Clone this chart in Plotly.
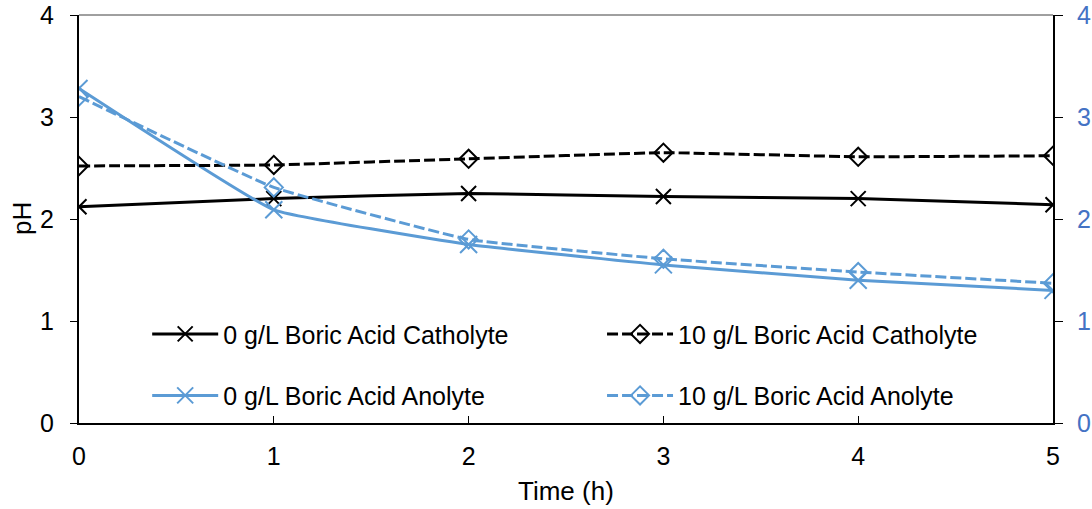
import plotly.graph_objects as go

time_h = [0, 1, 2, 3, 4, 5]
cat_0 = [2.12, 2.20, 2.25, 2.22, 2.20, 2.14]
cat_10 = [2.52, 2.53, 2.59, 2.65, 2.61, 2.62]
an_0 = [3.28, 2.09, 1.75, 1.55, 1.40, 1.30]
an_10 = [3.20, 2.31, 1.80, 1.61, 1.48, 1.37]
y_ticks = [0, 1, 2, 3, 4]

BLUE = "#5B9BD5"
FONT = "Liberation Sans, Arial, sans-serif"
SM = 0.3
DASH = "11px,4px"

fig = go.Figure()
fig.add_trace(go.Scatter(x=time_h, y=cat_0, name="0 g/L Boric Acid Catholyte",
                         mode="lines+markers", line=dict(color="black", width=3, shape="spline", smoothing=SM),
                         marker=dict(symbol="x-thin", size=15, line=dict(color="black", width=2)),
                         legend="legend", legendgroup="a"))
fig.add_trace(go.Scatter(x=time_h, y=an_0, name="0 g/L Boric Acid Anolyte",
                         mode="lines+markers", line=dict(color=BLUE, width=3, shape="spline", smoothing=SM),
                         marker=dict(symbol="x-thin", size=17, line=dict(color=BLUE, width=2)),
                         legend="legend", legendgroup="b"))
fig.add_trace(go.Scatter(x=time_h, y=cat_10, name="10 g/L Boric Acid Catholyte",
                         mode="lines+markers", line=dict(color="black", width=3, dash=DASH, shape="spline", smoothing=SM),
                         marker=dict(symbol="diamond-open", size=14, color="black", line=dict(color="black", width=2)),
                         legend="legend2", legendgroup="c"))
fig.add_trace(go.Scatter(x=time_h, y=an_10, name="10 g/L Boric Acid Anolyte", yaxis="y2",
                         mode="lines+markers", line=dict(color=BLUE, width=3, dash=DASH, shape="spline", smoothing=SM),
                         marker=dict(symbol="diamond-open", size=14, color=BLUE, line=dict(color=BLUE, width=2)),
                         legend="legend2", legendgroup="d"))

fig.update_layout(
    width=1092, height=509,
    margin=dict(l=79, r=39, t=15, b=86),
    plot_bgcolor="white", paper_bgcolor="white",
    font=dict(family=FONT, size=25, color="black"),
    xaxis=dict(range=[0, 5], tickvals=time_h, showline=True, linecolor="black", linewidth=2,
               ticks="inside", ticklen=7, tickcolor="black", showgrid=False, zeroline=False,
               automargin=False, ticklabelstandoff=10, tickfont=dict(size=25)),
    yaxis=dict(range=[0, 4], tickvals=y_ticks, showline=True, linecolor="black", linewidth=2,
               ticks="outside", ticklen=7, tickcolor="black", showgrid=False, zeroline=False,
               automargin=False, ticklabelstandoff=11, tickfont=dict(size=25)),
    yaxis2=dict(range=[0, 4], tickvals=y_ticks, overlaying="y", side="right", showline=True,
                linecolor="black", linewidth=2, ticks="outside", ticklen=8, tickcolor="black",
                showgrid=False, zeroline=False, automargin=False, ticklabelstandoff=9,
                tickfont=dict(size=25, color="#4472C4")),
    legend=dict(x=0.07, y=0.143, xanchor="left", yanchor="middle", bgcolor="rgba(0,0,0,0)",
                tracegroupgap=26, font=dict(size=25), itemwidth=66),
    legend2=dict(x=0.537, y=0.143, xanchor="left", yanchor="middle", bgcolor="rgba(0,0,0,0)",
                 tracegroupgap=26, font=dict(size=25), itemwidth=66),
    shapes=[dict(type="line", xref="paper", yref="paper", x0=0, x1=1, y0=1, y1=1,
                 line=dict(color="#404040", width=1))],
    annotations=[
        dict(text="Time (h)", xref="paper", yref="paper", x=0.5, y=(509 - 491 - 86) / 408,
             xanchor="center", yanchor="middle", showarrow=False, font=dict(size=26)),
        dict(text="pH", xref="paper", yref="paper", x=(22 - 79) / 974, y=0.5, textangle=-90,
             xanchor="center", yanchor="middle", showarrow=False, font=dict(size=26)),
    ],
)

fig.write_html("out.html")
